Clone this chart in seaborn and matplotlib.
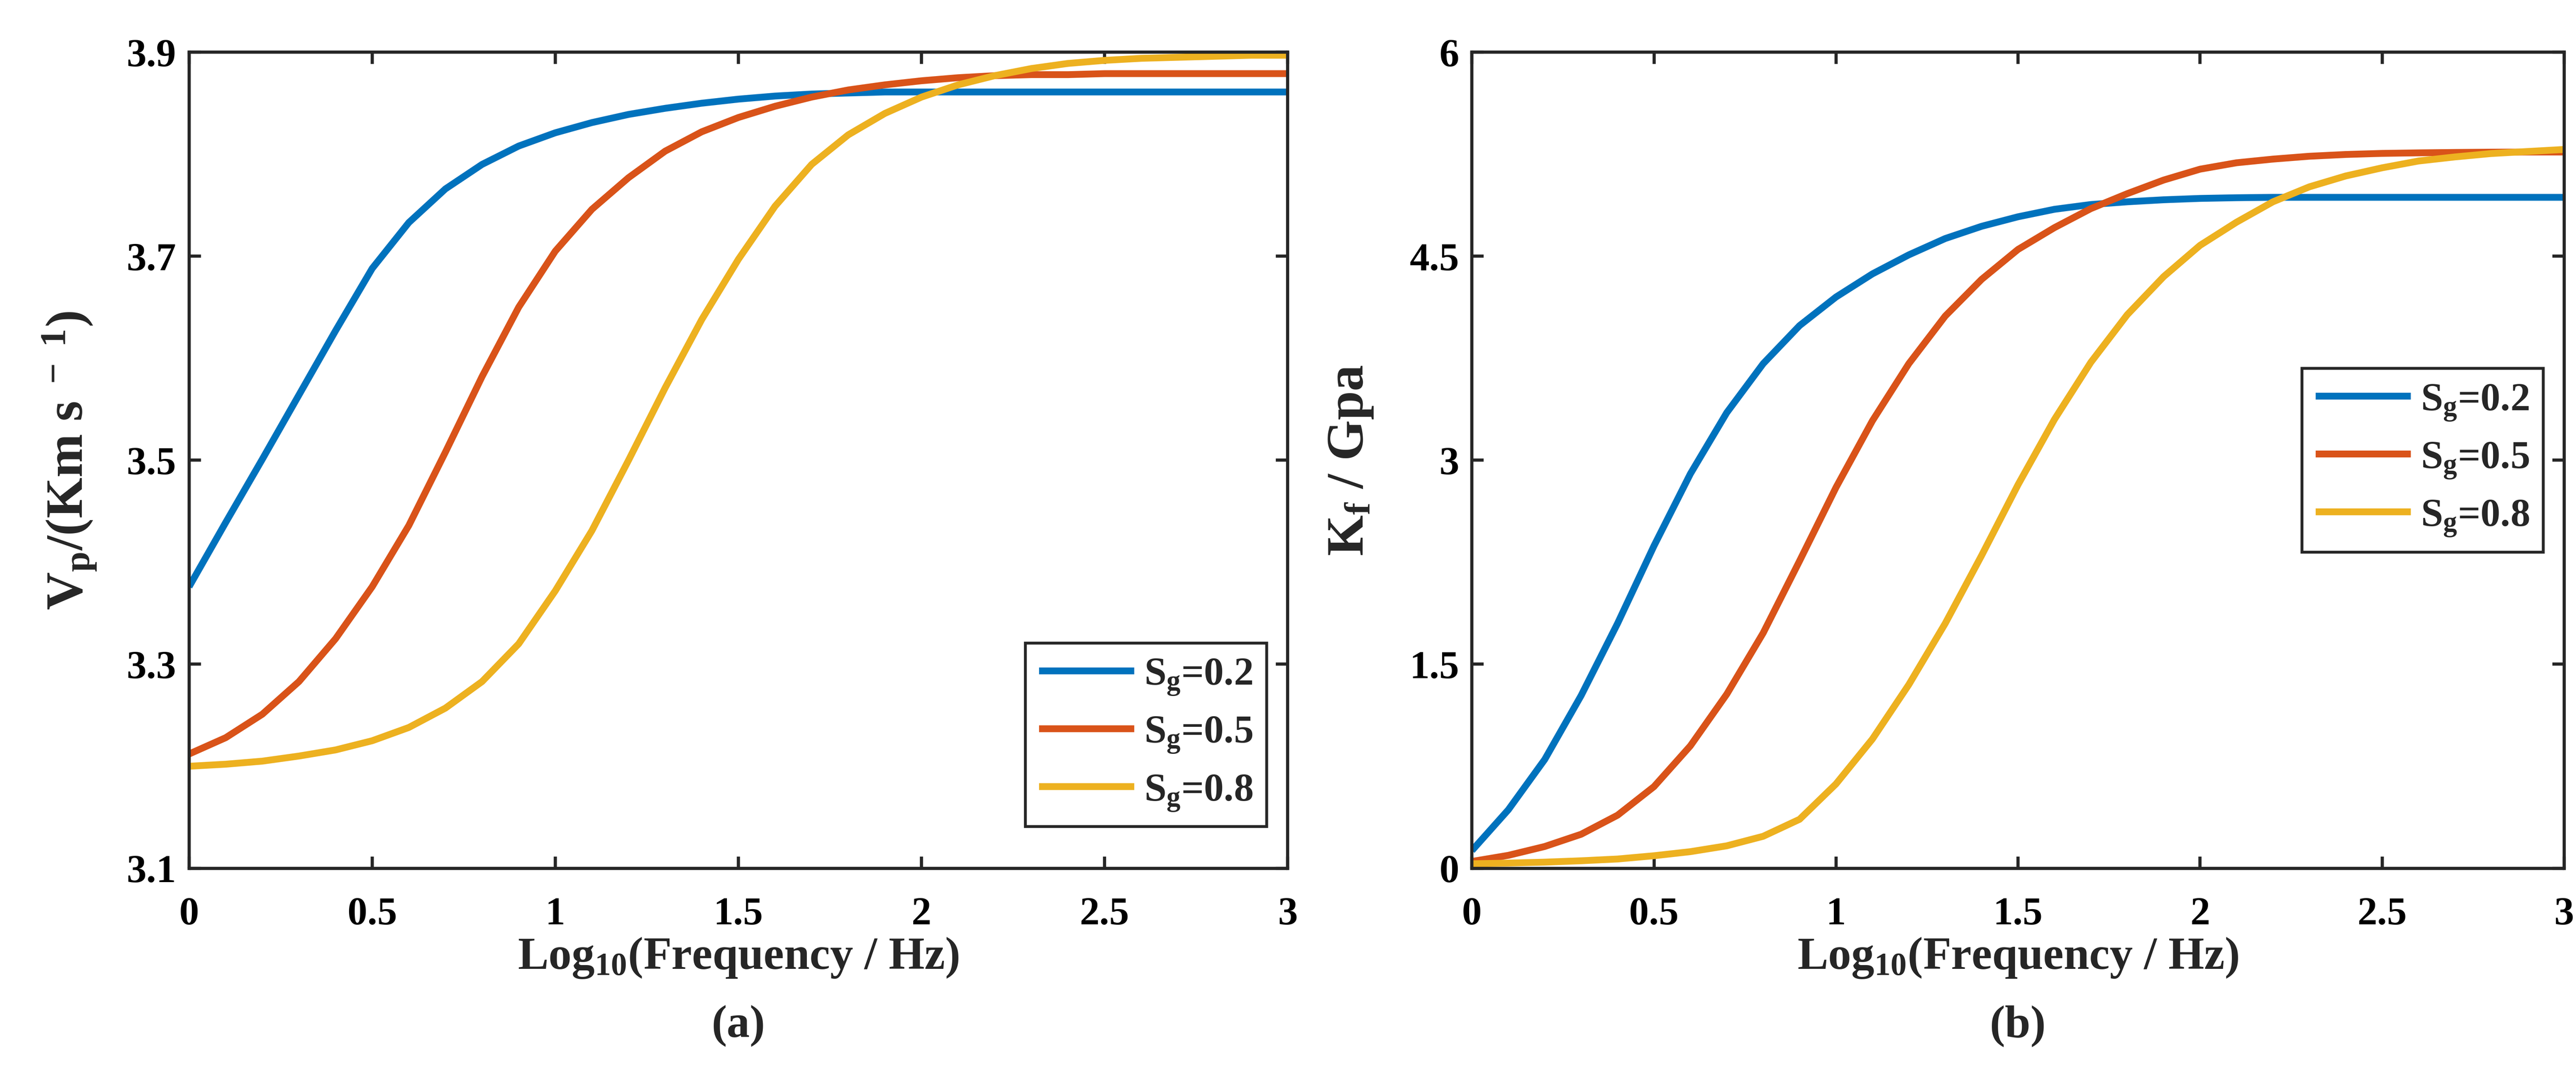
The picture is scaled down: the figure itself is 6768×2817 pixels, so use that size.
import numpy as np
import pandas as pd
import matplotlib
matplotlib.use("Agg")
import matplotlib.pyplot as plt
import seaborn as sns

# log10 frequency grid (0 .. 3, step 0.1)
logf = [0.0, 0.1, 0.2, 0.3, 0.4, 0.5, 0.6, 0.7, 0.8, 0.9,
        1.0, 1.1, 1.2, 1.3, 1.4, 1.5, 1.6, 1.7, 1.8, 1.9,
        2.0, 2.1, 2.2, 2.3, 2.4, 2.5, 2.6, 2.7, 2.8, 2.9, 3.0]

sg_labels = ["S$_g$=0.2", "S$_g$=0.5", "S$_g$=0.8"]

# (a) Vp in km/s
vp_02 = [3.376, 3.439, 3.501, 3.564, 3.627, 3.688, 3.733, 3.766, 3.790, 3.808,
         3.821, 3.831, 3.839, 3.845, 3.850, 3.854, 3.857, 3.859, 3.860, 3.861,
         3.861, 3.861, 3.861, 3.861, 3.861, 3.861, 3.861, 3.861, 3.861, 3.861, 3.861]
vp_05 = [3.212, 3.228, 3.251, 3.283, 3.325, 3.376, 3.436, 3.508, 3.582, 3.650,
         3.705, 3.746, 3.777, 3.803, 3.822, 3.836, 3.847, 3.856, 3.863, 3.868,
         3.872, 3.875, 3.877, 3.878, 3.878, 3.879, 3.879, 3.879, 3.879, 3.879, 3.879]
vp_08 = [3.200, 3.202, 3.205, 3.210, 3.216, 3.225, 3.238, 3.257, 3.283, 3.320,
         3.372, 3.431, 3.500, 3.571, 3.638, 3.697, 3.749, 3.790, 3.819, 3.840,
         3.856, 3.868, 3.877, 3.884, 3.889, 3.892, 3.894, 3.895, 3.896, 3.897, 3.897]

# (b) Kf in GPa
kf_02 = [0.13, 0.43, 0.80, 1.27, 1.80, 2.37, 2.90, 3.35, 3.71, 3.99,
         4.20, 4.37, 4.51, 4.63, 4.72, 4.79, 4.845, 4.88, 4.90, 4.915,
         4.925, 4.93, 4.933, 4.933, 4.933, 4.933, 4.933, 4.933, 4.933, 4.933, 4.933]
kf_05 = [0.05, 0.095, 0.16, 0.25, 0.39, 0.60, 0.90, 1.28, 1.73, 2.26,
         2.80, 3.29, 3.71, 4.06, 4.33, 4.55, 4.71, 4.85, 4.96, 5.06,
         5.14, 5.187, 5.214, 5.235, 5.248, 5.256, 5.26, 5.263, 5.265, 5.266, 5.266]
kf_08 = [0.033, 0.038, 0.045, 0.055, 0.068, 0.092, 0.122, 0.165, 0.235, 0.36,
         0.62, 0.95, 1.35, 1.80, 2.30, 2.82, 3.30, 3.72, 4.07, 4.35,
         4.58, 4.75, 4.90, 5.01, 5.09, 5.15, 5.20, 5.23, 5.255, 5.27, 5.285]

colors = ["#0072BD", "#D95319", "#EDB120"]

vp_ticks = [3.1, 3.3, 3.5, 3.7, 3.9]
kf_ticks = [0, 1.5, 3, 4.5, 6]
kf_ticklabels = ["0", "1.5", "3", "4.5", "6"]
x_ticks = [0, 0.5, 1, 1.5, 2, 2.5, 3]
x_ticklabels = ["0", "0.5", "1", "1.5", "2", "2.5", "3"]


def long_df(series, name):
    parts = []
    for lab, vals in zip(sg_labels, series):
        parts.append(pd.DataFrame({"logf": logf, name: vals, "sg": lab}))
    return pd.concat(parts, ignore_index=True)


df_vp = long_df([vp_02, vp_05, vp_08], "vp")
df_kf = long_df([kf_02, kf_05, kf_08], "kf")

sns.set_style("ticks")
plt.rcParams["font.family"] = ["Liberation Serif", "DejaVu Serif"]
plt.rcParams["font.weight"] = "bold"
plt.rcParams["mathtext.fontset"] = "custom"
plt.rcParams["mathtext.rm"] = "Liberation Serif:bold"
plt.rcParams["mathtext.it"] = "Liberation Serif:bold"
plt.rcParams["mathtext.bf"] = "Liberation Serif:bold"
plt.rcParams["axes.linewidth"] = 2.0
plt.rcParams["axes.edgecolor"] = "#262626"
plt.rcParams["lines.solid_joinstyle"] = "round"
plt.rcParams["lines.solid_capstyle"] = "butt"

fig = plt.figure(figsize=(22.56, 9.393), dpi=300)
ax1 = fig.add_axes([0.0734, 0.190, 0.4265, 0.761])
ax2 = fig.add_axes([0.5714, 0.190, 0.4240, 0.761])

palette = dict(zip(sg_labels, colors))

sns.lineplot(data=df_vp, x="logf", y="vp", hue="sg", hue_order=sg_labels,
             palette=palette, linewidth=4.3, ax=ax1, legend=False)
sns.lineplot(data=df_kf, x="logf", y="kf", hue="sg", hue_order=sg_labels,
             palette=palette, linewidth=4.3, ax=ax2, legend=False)

for ax in (ax1, ax2):
    ax.set_xlim(0, 3)
    ax.set_xticks(x_ticks)
    ax.set_xticklabels(x_ticklabels)
    ax.tick_params(axis="both", direction="in", length=7.5, width=2.0,
                   top=True, right=True, labelsize=25, colors="#262626",
                   labelcolor="black")
    ax.tick_params(axis="x", pad=18)
    ax.tick_params(axis="y", pad=8)
    for s in ax.spines.values():
        s.set_visible(True)
        s.set_linewidth(2.0)
    ax.set_xlabel("Log$_{10}$(Frequency / Hz)", fontsize=29, fontweight="bold", labelpad=2)

ax1.set_ylim(3.1, 3.9)
ax1.set_yticks(vp_ticks)
ax1.set_yticklabels([f"{v:.1f}" for v in vp_ticks])
ax1.set_ylabel("V$_p$/(Km s$^{\\ -\\ 1}$)", fontsize=33, fontweight="bold", labelpad=18)

ax2.set_ylim(0, 6)
ax2.set_yticks(kf_ticks)
ax2.set_yticklabels(kf_ticklabels)
ax2.set_ylabel("K$_f$ / Gpa", fontsize=33, fontweight="bold", labelpad=22)

ax1.text(0.5, -0.193, "(a)", transform=ax1.transAxes, ha="center", va="center",
         fontsize=29, fontweight="bold")
ax2.text(0.5, -0.193, "(b)", transform=ax2.transAxes, ha="center", va="center",
         fontsize=29, fontweight="bold")

legend_kw = dict(fontsize=25, frameon=True, fancybox=False, edgecolor="#262626",
                 framealpha=1, handlelength=2.4, handletextpad=0.25,
                 labelspacing=0.45, borderpad=0.35, borderaxespad=0)

lines1 = ax1.get_lines()[:3]
leg1 = ax1.legend(lines1, sg_labels, loc="lower right",
                  bbox_to_anchor=(0.981, 0.051), **legend_kw)
leg1.get_frame().set_linewidth(1.8)

lines2 = ax2.get_lines()[:3]
leg2 = ax2.legend(lines2, sg_labels, loc="center right",
                  bbox_to_anchor=(0.981, 0.50), **legend_kw)
leg2.get_frame().set_linewidth(1.8)

fig.savefig("out.png", dpi=300, facecolor="white")
